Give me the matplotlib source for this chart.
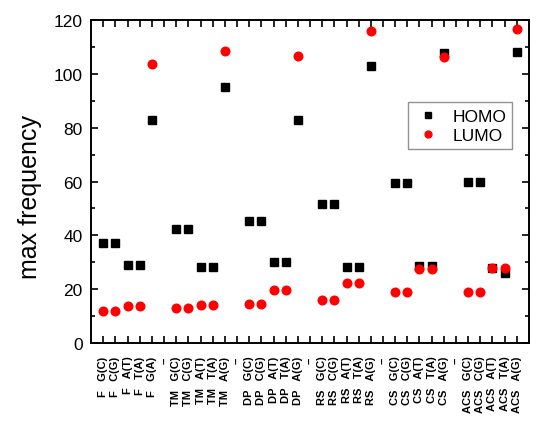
import matplotlib
matplotlib.use("Agg")
import matplotlib.pyplot as plt
from matplotlib.ticker import MultipleLocator

plt.rcParams['font.family'] = ['Liberation Sans', 'DejaVu Sans']

groups = ["F", "TM", "DP", "RS", "CS", "ACS"]
pairs = ["G(C)", "C(G)", "A(T)", "T(A)", "G(A)"]
pairs_alt = ["G(C)", "C(G)", "A(T)", "T(A)", "A(G)"]

homo = {
    "F":   [37, 37, 29, 29, 83.0],
    "TM":  [42.3, 42.3, 28.2, 28.2, 95.2],
    "DP":  [45.2, 45.2, 30.2, 30.2, 83.0],
    "RS":  [51.8, 51.8, 28.1, 28.1, 103.0],
    "CS":  [59.4, 59.4, 28.8, 28.8, 107.6],
    "ACS": [59.7, 59.7, 28.0, 26.0, 108.0],
}
lumo = {
    "F":   [12.0, 12.0, 13.8, 13.8, 103.7],
    "TM":  [13.0, 13.0, 14.3, 14.3, 108.5],
    "DP":  [14.5, 14.5, 19.6, 19.6, 106.6],
    "RS":  [16.0, 16.0, 22.4, 22.4, 116.0],
    "CS":  [18.9, 18.9, 27.5, 27.5, 106.3],
    "ACS": [18.9, 18.9, 27.8, 27.8, 116.5],
}

labels = []
hx, hy, lx, ly = [], [], [], []
pos = 0
for gi, g in enumerate(groups):
    pl = pairs if g == "F" else pairs_alt
    for k in range(5):
        labels.append(f"{g}   {pl[k]}")
        hx.append(pos); hy.append(homo[g][k])
        lx.append(pos); ly.append(lumo[g][k])
        pos += 1
    if gi < len(groups) - 1:
        labels.append("--")
        pos += 1

fig = plt.figure(figsize=(5.5, 4.35), dpi=100)
ax = fig.add_axes([0.1655, 0.209, 0.7963, 0.7427])

ax.plot(hx, hy, ls='none', marker='s', ms=5.2, color='black', label='HOMO', zorder=3)
ax.plot(lx, ly, ls='none', marker='o', ms=6.2, color='#ff0000', mec='#ff0000', label='LUMO', zorder=3)

ax.set_xlim(-1, 35)
ax.set_ylim(0, 120)
ax.set_xticks(range(len(labels)))
ax.set_xticklabels(labels, rotation=90, fontsize=8, fontweight='bold')
ax.yaxis.set_major_locator(MultipleLocator(20))
ax.yaxis.set_minor_locator(MultipleLocator(10))
ax.tick_params(axis='both', which='both', direction='in', top=True, right=True, width=1.2)
ax.tick_params(axis='both', which='major', length=5)
ax.tick_params(axis='y', which='minor', length=3)
ax.tick_params(axis='y', labelsize=12.5, pad=6)
ax.tick_params(axis='x', pad=9)
for s in ax.spines.values():
    s.set_linewidth(1.4)

ax.set_ylabel("max frequency", fontsize=18)
ax.yaxis.set_label_coords(-0.112, 0.455)

leg = ax.legend(loc='upper left', bbox_to_anchor=(0.724, 0.745), fontsize=12.5,
                frameon=True, fancybox=False, edgecolor='#777777', markerscale=0.8,
                handlelength=1.6, handletextpad=0.6, borderpad=0.35, labelspacing=0.25,
                borderaxespad=0)
leg.get_frame().set_linewidth(1.0)

fig.savefig("out.png", dpi=100)
